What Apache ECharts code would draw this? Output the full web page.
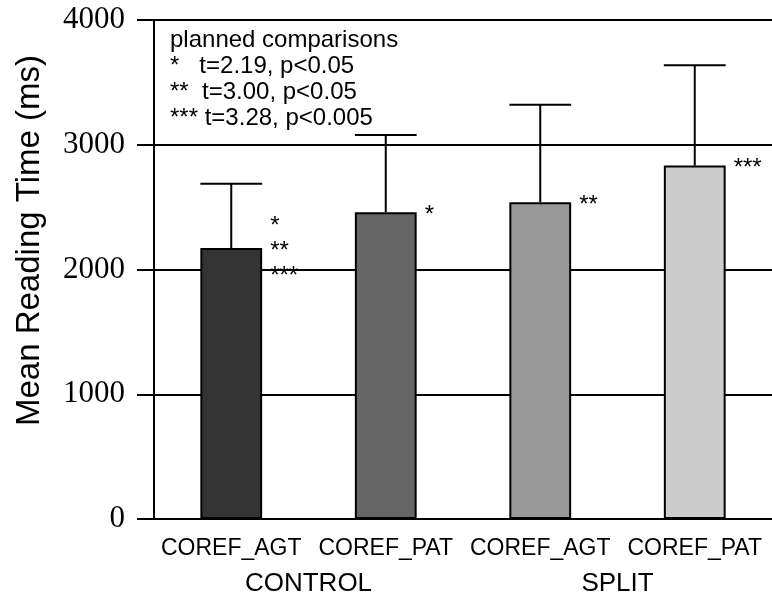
<!DOCTYPE html>
<html>
<head>
<meta charset="utf-8">
<script src="https://cdn.jsdelivr.net/npm/echarts@6/dist/echarts.min.js"></script>
<style>
  html, body { margin: 0; padding: 0; background: #fff; }
  #chart { width: 772px; height: 598px; }
</style>
</head>
<body>
<div id="chart"></div>
<script>
// 数据
const conditions = ['COREF_AGT', 'COREF_PAT', 'COREF_AGT', 'COREF_PAT'];
const groups = ['CONTROL', 'SPLIT'];
const meanTimes = [2172, 2458, 2540, 2833];
const upperErr = [2687, 3079, 3320, 3638];
const barColors = ['#333333', '#666666', '#999999', '#cccccc'];
const sigMarks = ['*\n**\n***', '*', '**', '***'];
const noteLines = ['planned comparisons', '*   t=2.19, p<0.05', '**  t=3.00, p<0.05', '*** t=3.28, p<0.005'];

const sans = '"Liberation Sans", Arial, sans-serif';
const serif = '"Liberation Serif", "Times New Roman", serif';

var myChart = echarts.init(document.getElementById('chart'));

var option = {
    animation: false,
    grid: { left: 154, right: -6, top: 20, bottom: 79 },
    xAxis: [
        {
            type: 'category',
            data: conditions,
            position: 'bottom',
            axisLine: { lineStyle: { color: '#000', width: 2 } },
            axisTick: { show: false },
            axisLabel: { color: '#000', fontFamily: sans, fontSize: 23, margin: 18, interval: 0, hideOverlap: false }
        },
        {
            type: 'category',
            data: groups,
            position: 'bottom',
            axisLine: { show: false },
            axisTick: { show: false },
            axisLabel: { color: '#000', fontFamily: sans, fontSize: 26, margin: 52, interval: 0 }
        }
    ],
    yAxis: {
        type: 'value',
        min: 0,
        max: 4000,
        interval: 1000,
        axisLine: { show: true, lineStyle: { color: '#000', width: 2 } },
        axisTick: { show: true, length: 17, lineStyle: { color: '#000', width: 2 } },
        axisLabel: { color: '#000', fontFamily: serif, fontSize: 31, margin: 29, formatter: v => String(v) },
        splitLine: { show: true, lineStyle: { color: '#000', width: 2 } }
    },
    graphic: [
        {
            type: 'text',
            left: 170,
            top: 27,
            style: {
                text: noteLines.join('\n'),
                font: '24px ' + sans,
                lineHeight: 26,
                fill: '#000'
            }
        },
        {
            type: 'text',
            left: 13,
            top: 55,
            rotation: Math.PI / 2,
            style: {
                text: 'Mean Reading Time (ms)',
                font: '33px ' + sans,
                fill: '#000'
            }
        }
    ],
    series: [
        {
            type: 'bar',
            barWidth: '40%',
            data: meanTimes.map((v, i) => ({
                value: v,
                itemStyle: { color: barColors[i], borderColor: '#000', borderWidth: 2 }
            }))
        },
        {
            type: 'custom',
            z: 3,
            data: meanTimes.map((v, i) => [i, v, upperErr[i]]),
            renderItem: function (params, api) {
                var i = api.value(0);
                var base = api.coord([i, api.value(1)]);
                var high = api.coord([i, api.value(2)]);
                var w = api.size([1, 0])[0] * 0.4;
                return {
                    type: 'group',
                    children: [
                        { type: 'line', shape: { x1: base[0], y1: base[1], x2: high[0], y2: high[1] }, style: { stroke: '#000', lineWidth: 2 } },
                        { type: 'line', shape: { x1: high[0] - w / 2, y1: high[1], x2: high[0] + w / 2, y2: high[1] }, style: { stroke: '#000', lineWidth: 2 } },
                        {
                            type: 'text',
                            x: base[0] + w / 2 + 8,
                            y: base[1] + 3,
                            style: {
                                text: sigMarks[i],
                                font: '24px ' + sans,
                                lineHeight: 25,
                                verticalAlign: 'middle',
                                fill: '#000'
                            }
                        }
                    ]
                };
            }
        }
    ]
};

option && myChart.setOption(option);
</script>
</body>
</html>
